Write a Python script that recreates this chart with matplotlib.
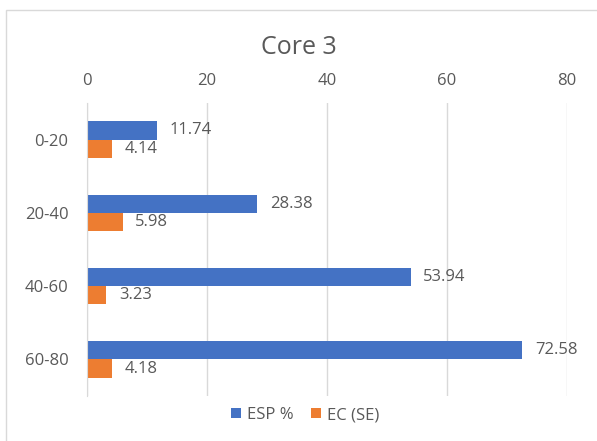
import matplotlib.pyplot as plt
import numpy as np
from matplotlib.patches import Rectangle

# データ
depths = ['0-20', '20-40', '40-60', '60-80']
esp = [11.74, 28.38, 53.94, 72.58]
ec = [4.14, 5.98, 3.23, 4.18]

blue = '#4472C4'
orange = '#ED7D31'
gray = '#595959'

plt.rcParams['font.family'] = ['Open Sans', 'DejaVu Sans']

fig = plt.figure(figsize=(5.97, 4.41), dpi=100)
ax = fig.add_axes([87 / 597, 1 - 396 / 441, 480 / 597, 293 / 441])

# 外枠
fig.patches.append(Rectangle((6 / 597, -0.1), 1.2, 1 - 10 / 441 + 0.1,
                             transform=fig.transFigure, fill=False,
                             edgecolor='#d9d9d9', linewidth=1))

y = np.arange(len(depths))
h = 0.25
b1 = ax.barh(y - h / 2, esp, height=h, color=blue, label='ESP %')
b2 = ax.barh(y + h / 2, ec, height=h, color=orange, label='EC (SE)')

for bars, vals in [(b1, esp), (b2, ec)]:
    for bar, v in zip(bars, vals):
        ax.annotate(f'{v:.2f}', (v, bar.get_y() + bar.get_height() / 2),
                    xytext=(9, 0), textcoords='offset points',
                    va='center', ha='left', fontsize=12, color=gray)

ax.set_xlim(0, 80)
ax.set_ylim(3.5, -0.5)
ax.set_xticks([0, 20, 40, 60, 80])
ax.set_yticks(y)
ax.set_yticklabels(depths)
ax.xaxis.tick_top()
ax.tick_params(length=0, labelsize=12, labelcolor=gray)
ax.tick_params(axis='x', pad=10)
ax.tick_params(axis='y', pad=13.5)
ax.grid(axis='x', color='#d9d9d9', linewidth=1)
ax.set_axisbelow(True)
for s in ['top', 'right', 'bottom']:
    ax.spines[s].set_visible(False)
ax.spines['left'].set_color('#d9d9d9')

fig.text(0.5, 1 - 47 / 441, 'Core 3', ha='center', va='center',
         fontsize=18, color=gray)

fig.legend(handles=[b1, b2], loc='center', bbox_to_anchor=(305 / 597, 1 - 415 / 441),
           ncol=2, frameon=False, fontsize=12, labelcolor=gray,
           handlelength=0.6, handleheight=0.6, handletextpad=0.4, columnspacing=1.0)

plt.savefig('out.png', dpi=100)
